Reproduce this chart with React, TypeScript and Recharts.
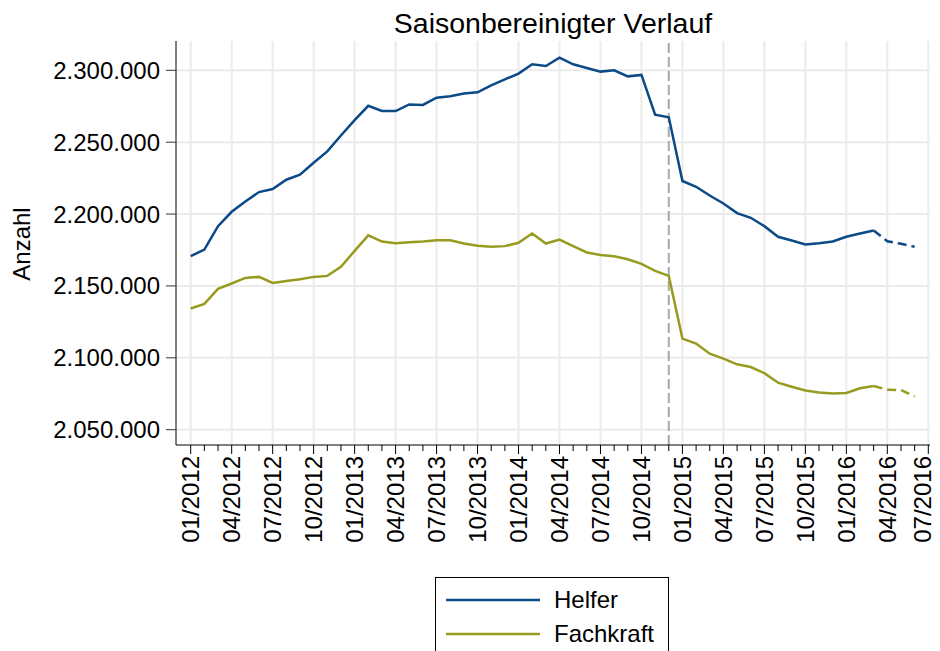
import { LineChart, Line, XAxis, YAxis, CartesianGrid, ReferenceLine } from 'recharts'

// monthly values, 01/2012 .. 06/2016
const helfer = [
    2170700, 2175300, 2191600, 2201600, 2208800, 2215300, 2217400, 2223900, 2227400, 2235700, 2243600, 2254700,
    2265400, 2275300, 2271700, 2271700, 2276300, 2275900, 2281000, 2281900, 2283800, 2284700, 2289600, 2293700,
    2297700, 2304200, 2303000, 2308800, 2304200, 2301600, 2299100, 2300000, 2295800, 2296800, 2269100, 2267300,
    2223000, 2219000, 2212900, 2207400, 2200700, 2197400, 2191600, 2184200, 2181600, 2178800, 2179700, 2180900,
    2184200, 2186500, 2188600, 2181100, 2179300, 2177200,
]

const fachkraft = [
    2134300, 2137500, 2148000, 2151700, 2155600, 2156300, 2152100, 2153500, 2154700, 2156300, 2157000, 2163300,
    2174400, 2185200, 2180900, 2179700, 2180400, 2180900, 2181800, 2181800, 2179500, 2177900, 2177200, 2177700,
    2180000, 2186500, 2179500, 2182300, 2177700, 2173300, 2171600, 2170700, 2168600, 2165400, 2160500, 2157000,
    2113400, 2109900, 2102900, 2099400, 2095500, 2093600, 2089300, 2082700, 2079900, 2077300, 2075800, 2075100,
    2075500, 2078800, 2080400, 2077800, 2077600, 2073100,
]

const tickLabels = [
    '01/2012', '04/2012', '07/2012', '10/2012', '01/2013', '04/2013', '07/2013', '10/2013',
    '01/2014', '04/2014', '07/2014', '10/2014', '01/2015', '04/2015', '07/2015', '10/2015',
    '01/2016', '04/2016', '07/2016',
]

const yTicks = [2050000, 2100000, 2150000, 2200000, 2250000, 2300000]

const projectionStart = 50 // 03/2016, dashed afterwards
const breakMonth = 35 // 12/2014

const BLUE = '#0b4a86'
const OLIVE = '#989b1f'
const FONT = '"Liberation Sans", Arial, sans-serif'

const data = helfer.map((h, i) => ({
    t: i,
    helfer: i <= projectionStart ? h : null,
    helferProj: i >= projectionStart ? h : null,
    fachkraft: i <= projectionStart ? fachkraft[i] : null,
    fachkraftProj: i >= projectionStart ? fachkraft[i] : null,
}))

const monthTicks = Array.from({ length: tickLabels.length * 3 - 2 }, (_, i) => i)
const majorTicks = monthTicks.filter((m) => m % 3 === 0)
const lastMonth = monthTicks[monthTicks.length - 1]

const fmt = (v: number) => v.toLocaleString('de-DE')

// eslint-disable-next-line @typescript-eslint/no-explicit-any
const MonthTick = (props: any) => {
    const { x, y, payload } = props
    const major = payload.value % 3 === 0
    // last label is pulled in a bit so it stays inside the picture
    const lx = payload.value === lastMonth ? x - 6 : x
    return (
        <g>
            <line x1={x} x2={x} y1={y} y2={y + (major ? 9 : 6)} stroke="#000" strokeWidth={1} />
            {major && (
                <text
                    transform={`translate(${lx},${y + 11}) rotate(-90)`}
                    textAnchor="end"
                    dominantBaseline="central"
                    fontSize={24}
                    fill="#000"
                    fontFamily={FONT}
                >
                    {tickLabels[payload.value / 3]}
                </text>
            )}
        </g>
    )
}

const legendItems = [
    { name: 'Helfer', color: BLUE },
    { name: 'Fachkraft', color: OLIVE },
]

export default function App() {
    return (
        <div style={{ position: 'absolute', left: 0, top: 0, width: 940, height: 651, overflow: 'hidden', background: '#fff', fontFamily: FONT }}>
            <div style={{ position: 'absolute', left: 176, width: 754, top: 7, textAlign: 'center', fontSize: 28.5, color: '#000' }}>
                Saisonbereinigter Verlauf
            </div>
            <div
                style={{
                    position: 'absolute',
                    left: 22,
                    top: 244,
                    transform: 'translate(-50%, -50%) rotate(-90deg)',
                    fontSize: 24,
                    color: '#000',
                    whiteSpace: 'nowrap',
                }}
            >
                Anzahl
            </div>
            <LineChart width={940} height={651} data={data} margin={{ top: 41, right: 10, left: 0, bottom: 96 }}>
                <CartesianGrid stroke="#ebebeb" strokeWidth={2} verticalValues={majorTicks} horizontalValues={yTicks} />
                <XAxis
                    dataKey="t"
                    type="number"
                    domain={[-1.076, 54.124]}
                    ticks={monthTicks}
                    interval={0}
                    tick={MonthTick}
                    tickLine={false}
                    tickSize={0}
                    tickMargin={0}
                    height={110}
                    axisLine={{ stroke: '#000' }}
                    allowDataOverflow
                />
                <YAxis
                    type="number"
                    domain={[2039350, 2320400]}
                    ticks={yTicks}
                    interval={0}
                    width={176}
                    tickSize={10}
                    tickMargin={6}
                    tickFormatter={fmt}
                    tick={{ fill: '#000', fontSize: 24, fontFamily: FONT }}
                    tickLine={{ stroke: '#333' }}
                    axisLine={{ stroke: '#000' }}
                    allowDataOverflow
                />
                <ReferenceLine x={breakMonth} stroke="#a8a8a8" strokeWidth={2} strokeDasharray="10 4" />
                <Line dataKey="helfer" stroke={BLUE} strokeWidth={2.5} dot={false} isAnimationActive={false} />
                <Line dataKey="fachkraft" stroke={OLIVE} strokeWidth={2.5} dot={false} isAnimationActive={false} />
                <Line dataKey="helferProj" stroke={BLUE} strokeWidth={2.5} strokeDasharray="9 5" dot={false} legendType="none" isAnimationActive={false} />
                <Line dataKey="fachkraftProj" stroke={OLIVE} strokeWidth={2.5} strokeDasharray="9 5" dot={false} legendType="none" isAnimationActive={false} />
            </LineChart>
            <div
                style={{
                    position: 'absolute',
                    left: 435,
                    top: 577,
                    width: 234,
                    height: 100,
                    border: '1px solid #000',
                    boxSizing: 'border-box',
                    background: '#fff',
                }}
            >
                {legendItems.map((item, i) => (
                    <div key={item.name} style={{ position: 'absolute', left: 10, top: 8 + i * 34, height: 28, display: 'flex', alignItems: 'center' }}>
                        <svg width={94} height={4} style={{ display: 'block' }}>
                            <line x1={0} x2={94} y1={2} y2={2} stroke={item.color} strokeWidth={2.5} />
                        </svg>
                        <span style={{ marginLeft: 14, fontSize: 24, color: '#000', lineHeight: '28px' }}>{item.name}</span>
                    </div>
                ))}
            </div>
        </div>
    )
}
